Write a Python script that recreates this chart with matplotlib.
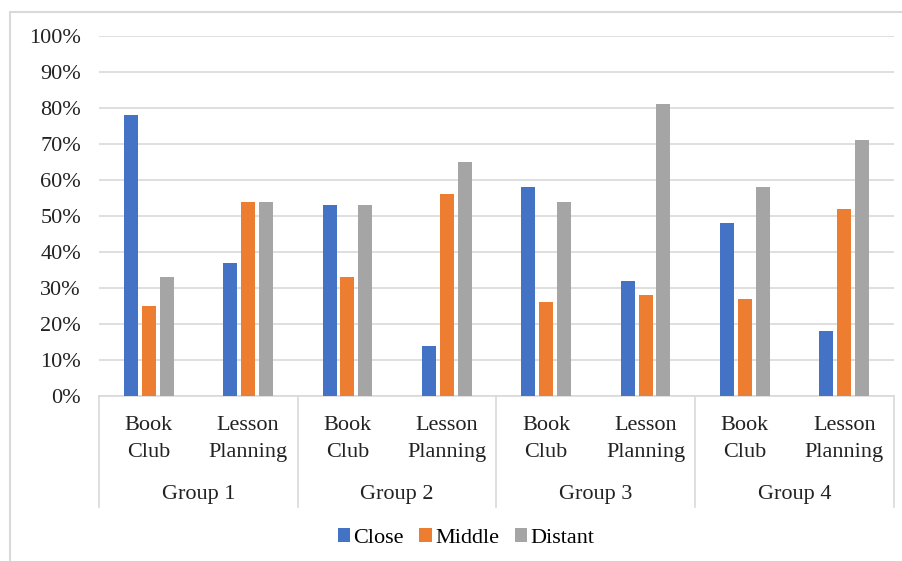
#!/usr/bin/env python3

import numpy as np
import matplotlib.pyplot as plt
from matplotlib.lines import Line2D

# Data (percent)
groups = ["Group 1", "Group 2", "Group 3", "Group 4"]
activities = ["Book\nClub", "Lesson\nPlanning"]
close = [78, 37, 53, 14, 58, 32, 48, 18]
middle = [25, 54, 33, 56, 26, 28, 27, 52]
distant = [33, 54, 53, 65, 54, 81, 58, 71]
series_names = ["Close", "Middle", "Distant"]
colors = ["#4472C4", "#ED7D31", "#A5A5A5"]

plt.rcParams['font.family'] = ['Liberation Serif', 'DejaVu Serif']

W, H = 903, 561
fig = plt.figure(figsize=(W / 100, H / 100), dpi=100)

# outer chart border (only top and left edges are visible in the reference)
fig.lines.append(Line2D([10 / W, 10 / W, 1.0], [0, (H - 12) / H, (H - 12) / H],
                        transform=fig.transFigure, color="#d9d9d9",
                        linewidth=1.5))

ax = fig.add_axes([99 / W, (H - 396) / H, 795 / W, 360 / H])

n = len(close)
x = np.arange(n)
bw = 0.14
step = 0.18
for i, (vals, name, c) in enumerate(zip([close, middle, distant], series_names, colors)):
    ax.bar(x + (i - 1) * step, np.array(vals) / 100, width=bw, color=c,
           label=name, zorder=3)

ax.set_xlim(-0.5, n - 0.5)
ax.set_ylim(0, 1.0)
ax.set_yticks(np.arange(0, 1.01, 0.1))
ax.set_yticklabels([f"{int(round(v * 100))}%" for v in np.arange(0, 1.01, 0.1)],
                   fontsize=16, color="#222222")
ax.yaxis.grid(True, color="#d9d9d9", linewidth=1.2, zorder=0)
ax.tick_params(axis='y', length=0, pad=13)
ax.set_xticks([])
for s in ["left", "right", "top"]:
    ax.spines[s].set_visible(False)
ax.spines["bottom"].set_color("#d9d9d9")
ax.spines["bottom"].set_linewidth(1.2)

# multi-level category axis
trans = ax.get_xaxis_transform()
y_sep_bottom = -(507 - 396) / 360
for b in np.arange(-0.5, n, 2):
    ax.plot([b, b], [0, y_sep_bottom], color="#d9d9d9", linewidth=1.2,
            transform=trans, clip_on=False)
for i in range(n):
    ax.text(x[i], -(439 - 396) / 360, activities[i % 2], transform=trans,
            ha="center", va="center", fontsize=16, linespacing=1.6,
            color="#222222")
for g, name in enumerate(groups):
    ax.text(2 * g + 0.5, -(495 - 396) / 360, name, transform=trans,
            ha="center", va="center", fontsize=16, color="#222222")

fig.legend(loc="center", bbox_to_anchor=(466 / W, (H - 538) / H), ncol=3,
           frameon=False, fontsize=16, handlelength=0.55, handleheight=0.6,
           handletextpad=0.15, columnspacing=0.7)

fig.savefig("out.png", dpi=100)
